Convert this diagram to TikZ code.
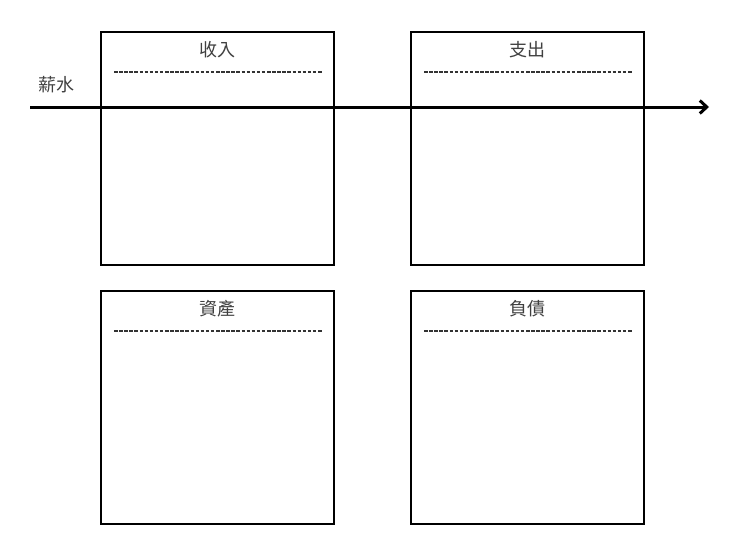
\documentclass[tikz,border=0pt]{standalone}
\usepackage{fontspec}
\setmainfont{Liberation Sans}
\newfontfamily\cjk{Noto Sans CJK TC}
\usetikzlibrary{arrows.meta, positioning}

\begin{document}
\begin{tikzpicture}[x=1pt, y=-1pt, node distance=76pt]

% Define styles for the boxes
\tikzstyle{ledger} = [rectangle, draw=black, line width=1.5pt, fill=white, minimum width=233pt, minimum height=233pt, inner sep=0pt, outer sep=0pt]
\tikzstyle{heading} = [text=black!75, inner sep=0pt, font=\cjk\fontsize{18}{18}\selectfont]
\tikzstyle{rule} = [draw=black!80, line width=1.3pt, dash pattern=on 3.5pt off 1.6pt]

\useasboundingbox (0,0) rectangle (740,554);

% Boxes
\node (income) [ledger] at (217.5,148.5) {};
\node (expense) [ledger, right=77pt of income] {};
\node (asset) [ledger, below=26pt of income] {};
\node (debt) [ledger, below=26pt of expense] {};

% Headings and dashed lines
\foreach \sheet/\title in {income/收入, expense/支出, asset/資產, debt/負債} {
  \node [heading] at ([yshift=-18pt]\sheet.north) {\title};
  \draw [rule] ([xshift=13pt, yshift=-40pt]\sheet.north west) -- ([xshift=-12pt, yshift=-40pt]\sheet.north east);
}

% Salary arrow
\coordinate (start) at (30,107);
\coordinate (stop) at (709,107);
\node [heading, anchor=west] at (38,85) {薪水};
\draw [line width=3pt, -{Straight Barb[length=7pt, width=13pt, line width=3pt]}] (start) -- (stop);

\end{tikzpicture}
\end{document}
